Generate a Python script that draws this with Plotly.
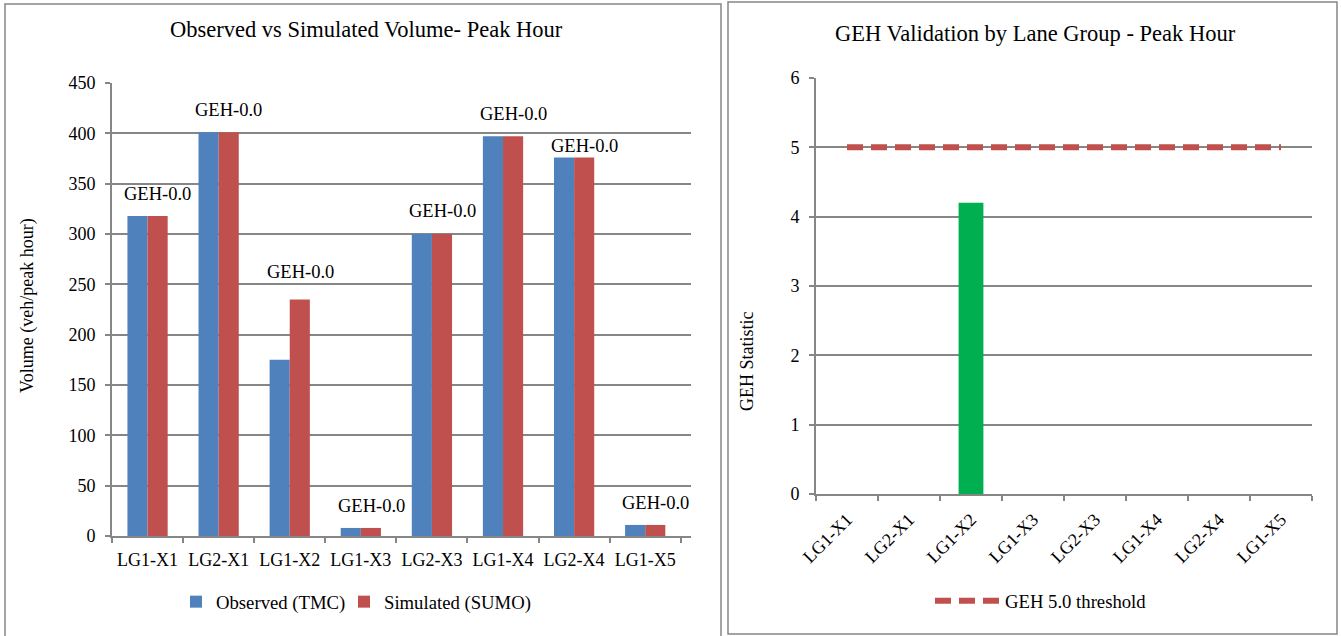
import plotly.graph_objects as go

# lane groups and volumes (veh/peak hour)
lane_groups = ['LG1-X1', 'LG2-X1', 'LG1-X2', 'LG1-X3', 'LG2-X3', 'LG1-X4', 'LG2-X4', 'LG1-X5']
observed = [318, 401, 175, 8, 300, 397, 376, 11]
simulated = [318, 401, 235, 8, 300, 397, 376, 11]
geh_labels = ['GEH-0.0'] * 8

# GEH statistic per lane group and the 5.0 threshold
geh_values = [0, 0, 4.2, 0, 0, 0, 0, 0]
geh_threshold = [5, 5, 5, 5, 5, 5, 5, 5]

W, H = 1341, 636
FONT = 'Liberation Serif, Times New Roman, serif'
GRID = '#868686'
BLUE = '#4F81BD'
RED = '#C0504D'
GREEN = '#00B050'


def px_x(v):
    return v / W


def px_y(v):
    # pixel row from top -> paper fraction from bottom
    return (H - v) / H


fig = go.Figure()

fig.add_trace(go.Bar(
    x=lane_groups, y=observed, name='Observed (TMC)',
    marker=dict(color=BLUE, line=dict(width=0)),
    xaxis='x', yaxis='y', legend='legend',
))
fig.add_trace(go.Bar(
    x=lane_groups, y=simulated, name='Simulated (SUMO)',
    marker=dict(color=RED, line=dict(width=0)),
    xaxis='x', yaxis='y', legend='legend3',
))

fig.add_trace(go.Bar(
    x=lane_groups, y=geh_values, name='GEH',
    marker=dict(color=GREEN, line=dict(width=0)),
    width=0.4, showlegend=False,
    xaxis='x2', yaxis='y2',
))
fig.add_trace(go.Scatter(
    x=lane_groups, y=geh_threshold, name='GEH 5.0 threshold',
    mode='lines', line=dict(color=RED, width=6, dash='16px,8px'),
    xaxis='x2', yaxis='y2', legend='legend2',
))

# data labels sit above the simulated bars (Excel placement varies a bit)
label_yshift = [22, 22, 27, 22, 23, 22, 11, 22]
annotations = []
for lg, val, txt, dy in zip(lane_groups, simulated, geh_labels, label_yshift):
    annotations.append(dict(
        x=lg, y=val, xref='x', yref='y', text=txt, showarrow=False,
        xshift=10.3, yshift=dy, xanchor='center', yanchor='middle',
        font=dict(family=FONT, size=18.5, color='black'),
    ))

# chart titles and axis titles
text_common = dict(xref='paper', yref='paper', showarrow=False,
                   xanchor='center', yanchor='middle')
annotations += [
    dict(x=px_x(366), y=px_y(29), text='Observed vs Simulated Volume- Peak Hour',
         font=dict(family=FONT, size=22.5, color='black'), **text_common),
    dict(x=px_x(1035), y=px_y(33), text='GEH Validation by Lane Group - Peak Hour',
         font=dict(family=FONT, size=22.5, color='black'), **text_common),
    dict(x=px_x(27), y=px_y(306), text='Volume (veh/peak hour)', textangle=-90,
         font=dict(family=FONT, size=18, color='black'), **text_common),
    dict(x=px_x(747), y=px_y(361), text='GEH Statistic', textangle=-90,
         font=dict(family=FONT, size=18, color='black'), **text_common),
]

# panel borders
shapes = [
    dict(type='rect', xref='paper', yref='paper',
         x0=px_x(5), x1=px_x(721), y0=-0.05, y1=px_y(4),
         line=dict(color=GRID, width=1.5)),
    dict(type='rect', xref='paper', yref='paper',
         x0=px_x(728), x1=px_x(1337), y0=px_y(634), y1=px_y(2),
         line=dict(color=GRID, width=1.5)),
]

axis_common = dict(
    showline=True, linecolor=GRID, linewidth=1.8, automargin=False,
    ticks='outside', ticklen=5, tickcolor=GRID, tickwidth=1.8,
    ticklabelstandoff=6,
    tickfont=dict(family=FONT, size=18, color='black'),
)

legend_common = dict(orientation='h', xanchor='left', yanchor='middle',
                     font=dict(family=FONT, size=18.7, color='black'),
                     bgcolor='rgba(0,0,0,0)')

fig.update_layout(
    template='none',
    width=W, height=H,
    margin=dict(l=0, r=0, t=0, b=0, pad=0, autoexpand=False),
    paper_bgcolor='white', plot_bgcolor='white',
    barmode='group', bargap=0.434, bargroupgap=0,
    font=dict(family=FONT, size=18, color='black'),
    xaxis=dict(domain=[px_x(112), px_x(691)], anchor='y', type='category',
               tickson='boundaries', showgrid=False, zeroline=False, **axis_common),
    yaxis=dict(domain=[px_y(536), px_y(83)], anchor='x', range=[0, 450], dtick=50,
               showgrid=True, gridcolor=GRID, gridwidth=1.8, zeroline=False,
               **axis_common),
    xaxis2=dict(domain=[px_x(816), px_x(1312)], anchor='y2', type='category',
                tickson='boundaries', tickangle=-45, showgrid=False, zeroline=False,
                **axis_common),
    yaxis2=dict(domain=[px_y(494), px_y(78)], anchor='x2', range=[0, 6], dtick=1,
                showgrid=True, gridcolor=GRID, gridwidth=1.8, zeroline=False,
                **axis_common),
    legend=dict(x=px_x(176), y=px_y(602), itemwidth=30, **legend_common),
    legend3=dict(x=px_x(344), y=px_y(602), itemwidth=30, **legend_common),
    legend2=dict(x=px_x(930), y=px_y(601), itemwidth=65, **legend_common),
    annotations=annotations,
    shapes=shapes,
)

# drop the default page margin so the figure sits at the window's corner
fig.write_html('out.html', config={'displayModeBar': False},
               post_script="document.body.style.margin='0';")
